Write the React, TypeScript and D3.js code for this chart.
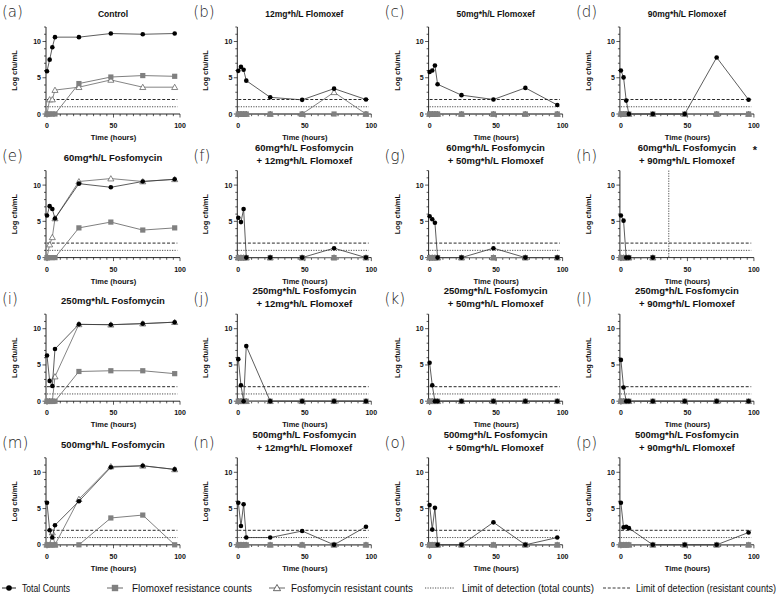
import React, { useLayoutEffect, useRef } from 'react';
import * as d3 from 'd3';

const times = [0, 2, 4, 6, 24, 48, 72, 96];
const panelLetters = ['a', 'b', 'c', 'd', 'e', 'f', 'g', 'h', 'i', 'j', 'k', 'l', 'm', 'n', 'o', 'p'];
const panelTitles: string[][] = [
  ['Control'], ['12mg*h/L Flomoxef'], ['50mg*h/L Flomoxef'], ['90mg*h/L Flomoxef'],
  ['60mg*h/L Fosfomycin'], ['60mg*h/L Fosfomycin', '+ 12mg*h/L Flomoxef'], ['60mg*h/L Fosfomycin', '+ 50mg*h/L Flomoxef'], ['60mg*h/L Fosfomycin', '+ 90mg*h/L Flomoxef'],
  ['250mg*h/L Fosfomycin'], ['250mg*h/L Fosfomycin', '+ 12mg*h/L Flomoxef'], ['250mg*h/L Fosfomycin', '+ 50mg*h/L Flomoxef'], ['250mg*h/L Fosfomycin', '+ 90mg*h/L Flomoxef'],
  ['500mg*h/L Fosfomycin'], ['500mg*h/L Fosfomycin', '+ 12mg*h/L Flomoxef'], ['500mg*h/L Fosfomycin', '+ 50mg*h/L Flomoxef'], ['500mg*h/L Fosfomycin', '+ 90mg*h/L Flomoxef'],
];

const totalCounts: number[][] = [
  [5.9, 7.5, 9.2, 10.6, 10.6, 11.1, 11.0, 11.1],
  [5.95, 6.5, 6.1, 4.6, 2.3, 1.95, 3.5, 2.0],
  [5.8, 6.0, 6.7, 4.1, 2.6, 2.0, 3.6, 1.25],
  [6.0, 5.05, 1.85, 0, 0, 0, 7.8, 1.97],
  [5.8, 7.1, 6.7, 5.4, 10.2, 9.7, 10.5, 10.8],
  [5.5, 4.9, 6.7, 0, 0, 0, 1.3, 0],
  [5.7, 5.3, 4.8, 0, 0, 1.3, 0, 0],
  [5.8, 5.1, 0, 0, 0],
  [6.3, 2.8, 2.1, 7.2, 10.6, 10.55, 10.7, 10.9],
  [5.8, 2.2, 0, 7.6, 0, 0, 0, 0],
  [5.3, 2.2, 0, 0, 0, 0, 0, 0],
  [5.7, 1.9, 0, 0, 0, 0, 0, 0],
  [5.8, 2.0, 1.0, 2.7, 6.0, 10.7, 10.9, 10.4],
  [5.8, 2.6, 5.6, 1.0, 1.0, 1.9, 0, 2.5],
  [5.5, 2.1, 5.1, 0, 0, 3.1, 0, 1.0],
  [5.8, 2.4, 2.5, 2.3, 0, 0, 0, 1.7],
];

const flomoxefCounts: number[][] = [
  [0, 0, 0, 0, 4.2, 5.1, 5.3, 5.2],
  [0, 0, 0, 0, 0, 0, 0, 0],
  [0, 0, 0, 0, 0, 0, 0, 0],
  [0, 0, 0, 0, 0, 0, 0, 0],
  [0, 0, 0, 0, 4.1, 4.9, 3.8, 4.1],
  [0, 0, 0, 0, 0, 0, 0, 0],
  [0, 0, 0, 0, 0, 0, 0, 0],
  [0, 0, 0, 0, 0],
  [0, 0, 0, 0, 4.1, 4.2, 4.2, 3.8],
  [0, 0, 0, 0, 0, 0, 0, 0],
  [0, 0, 0, 0, 0, 0, 0, 0],
  [0, 0, 0, 0, 0, 0, 0, 0],
  [0, 0, 0, 0, 0, 3.7, 4.1, 0],
  [0, 0, 0, 0, 0, 0, 0, 0],
  [0, 0, 0, 0, 0, 0, 0, 0],
  [0, 0, 0, 0, 0, 0, 0, 0],
];

const fosfomycinCounts: number[][] = [
  [0, 2.0, 2.0, 3.3, 3.7, 4.7, 3.7, 3.7],
  [0, 0, 0, 0, 0, 0, 3.0, 0],
  [0, 0, 0, 0, 0, 0, 0, 0],
  [0, 0, 0, 0, 0, 0, 0, 0],
  [0, 1.8, 2.8, 5.4, 10.5, 10.9, 10.5, 10.8],
  [0, 0, 0, 0, 0, 0, 0, 0],
  [0, 0, 0, 0, 0, 0, 0, 0],
  [0, 0, 0, 0, 0],
  [0, 0, 0, 3.4, 10.6, 10.55, 10.7, 10.9],
  [0, 0, 0, 0, 0, 0, 0, 0],
  [0, 0, 0, 0, 0, 0, 0, 0],
  [0, 0, 0, 0, 0, 0, 0, 0],
  [0, 0, 1.7, 0, 6.3, 10.8, 10.9, 10.4],
  [0, 0, 0, 0, 0, 0, 0, 0],
  [0, 0, 0, 0, 0, 0, 0, 0],
  [0, 0, 0, 0, 0, 0, 0, 0],
];

const stopMarks: (number | null)[] = [null, null, null, null, null, null, null, 36, null, null, null, null, null, null, null, null];
const asteriskPanels = ['h'];
const yTicks = [0, 5, 10];
const xTicks = [0, 50, 100];
const lodTotal = 1;
const lodResistant = 2;
const legendLabels = ['Total Counts', 'Flomoxef resistance counts', 'Fosfomycin resistant counts', 'Limit of detection (total counts)', 'Limit of detection (resistant counts)'];

const FONT = '"Liberation Sans", Arial, sans-serif';

function Panel({ idx }: { idx: number }) {
  const col = idx % 4;
  const row = Math.floor(idx / 4);
  const x0 = 47 + col * 191.3;
  const y0 = 114 + row * 143.6;
  const x = d3.scaleLinear().domain([0, 100]).range([x0, x0 + 133]);
  const y = d3.scaleLinear().domain([0, 12]).range([y0, y0 - 87]);
  const n = totalCounts[idx].length;
  const t = times.slice(0, n);
  const line = d3.line<[number, number]>().x(d => x(d[0])).y(d => y(d[1]));
  const tot: [number, number][] = t.map((tt, i) => [tt, totalCounts[idx][i]]);
  const flo: [number, number][] = t.map((tt, i) => [tt, flomoxefCounts[idx][i]]);
  const fos: [number, number][] = t.map((tt, i) => [tt, fosfomycinCounts[idx][i]]);
  const tri = d3.symbol().type(d3.symbolTriangle).size(16)();
  const title = panelTitles[idx];
  const titleX = x0 + 66;
  const minorX = d3.range(0, 101, 5);
  const minorY = d3.range(0, 13, 1);
  const stop = stopMarks[idx];
  return (
    <g>
      <text x={x0 - 45} y={y0 - 97} fontFamily='"DejaVu Sans", sans-serif' fontWeight={200} fontSize={15} fill="#222">({panelLetters[idx]})</text>
      {title.length === 1 ? (
        <text x={titleX} y={y0 - 97} textAnchor="middle" fontFamily={FONT} fontWeight={700} fontSize={row === 0 ? 8.5 : 9.5} fill="#111">{title[0]}</text>
      ) : (
        <g>
          <text x={titleX} y={y0 - 107} textAnchor="middle" fontFamily={FONT} fontWeight={700} fontSize={9.5} fill="#111">{title[0]}</text>
          <text x={titleX} y={y0 - 94} textAnchor="middle" fontFamily={FONT} fontWeight={700} fontSize={9.5} fill="#111">{title[1]}</text>
        </g>
      )}
      {asteriskPanels.includes(panelLetters[idx]) && (
        <text x={x0 + 134} y={y0 - 104} textAnchor="middle" fontFamily={FONT} fontWeight={700} fontSize={11} fill="#111">*</text>
      )}
      <line x1={x(0) - 1} x2={x(0) - 1} y1={y(12)} y2={y(0)} stroke="#111" strokeWidth={0.9} />
      <line x1={x(0) - 1} x2={x(100)} y1={y(0)} y2={y(0)} stroke="#111" strokeWidth={0.9} />
      {minorY.map(v => (
        <line key={'my' + v} x1={x(0) - 1} x2={x(0) - (yTicks.includes(v) ? 4.5 : 3)} y1={y(v)} y2={y(v)} stroke="#111" strokeWidth={0.7} />
      ))}
      {minorX.map(v => (
        <line key={'mx' + v} x1={x(v)} x2={x(v)} y1={y(0)} y2={y(0) + (xTicks.includes(v) ? 3.5 : 2.2)} stroke="#111" strokeWidth={0.7} />
      ))}
      {yTicks.map(v => (
        <text key={'yt' + v} x={x(0) - 6} y={y(v) + 2.5} textAnchor="end" fontFamily={FONT} fontWeight={700} fontSize={7} fill="#111">{v}</text>
      ))}
      {xTicks.map(v => (
        <text key={'xt' + v} x={x(v)} y={y(0) + 14} textAnchor="middle" fontFamily={FONT} fontWeight={700} fontSize={7} fill="#111">{v}</text>
      ))}
      <text x={x(50)} y={y(0) + 26} textAnchor="middle" fontFamily={FONT} fontWeight={700} fontSize={7.5} fill="#111">Time (hours)</text>
      <text transform={`translate(${x0 - 30},${y(6)}) rotate(-90)`} textAnchor="middle" fontFamily={FONT} fontWeight={700} fontSize={7.5} fill="#111">Log cfu/mL</text>
      <line x1={x(0)} x2={x(98)} y1={y(lodTotal)} y2={y(lodTotal)} stroke="#222" strokeWidth={0.8} strokeDasharray="1.2,1.3" />
      <line x1={x(0)} x2={x(98)} y1={y(lodResistant)} y2={y(lodResistant)} stroke="#111" strokeWidth={0.9} strokeDasharray="3,1.8" />
      {stop !== null && (
        <line x1={x(stop)} x2={x(stop)} y1={y(12)} y2={y(0)} stroke="#222" strokeWidth={0.8} strokeDasharray="1.2,1.3" />
      )}
      <path d={line(fos) || ''} fill="none" stroke="#666" strokeWidth={0.8} />
      {fos.map((d, i) => (
        <path key={'tr' + i} d={tri} transform={`translate(${x(d[0])},${y(d[1]) + 0.6})`} fill="#fff" stroke="#555" strokeWidth={0.7} />
      ))}
      <path d={line(flo) || ''} fill="none" stroke="#808080" strokeWidth={1} />
      {flo.map((d, i) => (
        <rect key={'sq' + i} x={x(d[0]) - 2.6} y={y(d[1]) - 2.6} width={5.2} height={5.2} fill="#808080" />
      ))}
      <path d={line(tot) || ''} fill="none" stroke="#333" strokeWidth={0.8} />
      {tot.map((d, i) => (
        <circle key={'c' + i} cx={x(d[0])} cy={y(d[1])} r={2.3} fill="#000" />
      ))}
    </g>
  );
}

const legendItems = [
  { x1: 2, x2: 16, tx: 22, tw: 48 },
  { x1: 107, x2: 123, tx: 132, tw: 120 },
  { x1: 269, x2: 285, tx: 291, tw: 122 },
  { x1: 425, x2: 455, tx: 462, tw: 132 },
  { x1: 603, x2: 630, tx: 636, tw: 140 },
];

function Legend() {
  const cy = 588;
  const tri = d3.symbol().type(d3.symbolTriangle).size(22)();
  const ref = useRef<SVGGElement>(null);
  useLayoutEffect(() => {
    if (!ref.current) return;
    d3.select(ref.current).selectAll<SVGTextElement, unknown>('text.lg').each(function () {
      const i = +(this.getAttribute('data-i') || 0);
      const it = legendItems[i];
      const w = this.getComputedTextLength() || it.tw;
      this.setAttribute('transform', `translate(${it.tx},${cy + 3.6}) scale(${it.tw / w},1)`);
    });
  }, []);
  return (
    <g ref={ref}>
      {legendItems.map((it, i) => {
        const cx = (it.x1 + it.x2) / 2;
        return (
          <g key={i}>
            {i === 0 && <line x1={it.x1} x2={it.x2} y1={cy} y2={cy} stroke="#222" strokeWidth={1} />}
            {i === 0 && <circle cx={cx} cy={cy} r={2.8} fill="#000" />}
            {i === 1 && <line x1={it.x1} x2={it.x2} y1={cy} y2={cy} stroke="#808080" strokeWidth={1.2} />}
            {i === 1 && <rect x={cx - 3.2} y={cy - 3.2} width={6.4} height={6.4} fill="#808080" />}
            {i === 2 && <line x1={it.x1} x2={it.x2} y1={cy} y2={cy} stroke="#555" strokeWidth={0.9} />}
            {i === 2 && <path d={tri} transform={`translate(${cx},${cy + 0.6})`} fill="#fff" stroke="#444" strokeWidth={0.8} />}
            {i === 3 && <line x1={it.x1} x2={it.x2} y1={cy} y2={cy} stroke="#222" strokeWidth={0.8} strokeDasharray="1.2,1.3" />}
            {i === 4 && <line x1={it.x1} x2={it.x2} y1={cy} y2={cy} stroke="#222" strokeWidth={0.9} strokeDasharray="3,1.8" />}
            <text className="lg" data-i={i} x={0} y={0} transform={`translate(${it.tx},${cy + 3.6}) scale(0.86,1)`} fontFamily={FONT} fontSize={10.5} fill="#111">{legendLabels[i]}</text>
          </g>
        );
      })}
    </g>
  );
}

export default function App() {
  return (
    <svg width={781} height={598} style={{ position: 'absolute', left: 0, top: 0, background: '#fff' }}>
      <rect x={0} y={0} width={781} height={598} fill="#fff" />
      {panelLetters.map((_, i) => <Panel key={i} idx={i} />)}
      <Legend />
    </svg>
  );
}
